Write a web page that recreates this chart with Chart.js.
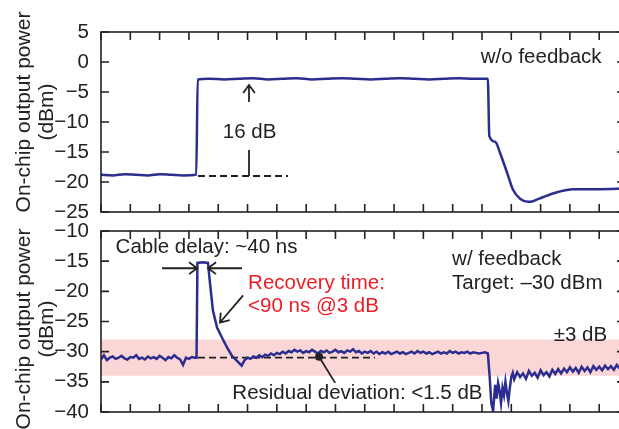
<!DOCTYPE html>
<html>
<head>
<meta charset="utf-8">
<script src="https://cdn.jsdelivr.net/npm/chart.js@4.4.1/dist/chart.umd.min.js"></script>
<style>
  html, body { margin: 0; padding: 0; background: #fff; overflow: hidden; }
  #wrap { position: relative; width: 619px; height: 429px; overflow: hidden; }
  canvas { position: absolute; left: 0; }
  #top { top: 0; }
  #bot { top: 220px; }
</style>
</head>
<body>
<div id="wrap">
  <canvas id="top" width="630" height="220"></canvas>
  <canvas id="bot" width="630" height="209"></canvas>
</div>
<script>
// time in ns, power in dBm
const timeMax = 1788;

// upper trace: no feedback
const topTime = [0,40,80,120,160,200,240,280,325,
  330,370,420,470,520,570,620,670,720,770,820,870,920,970,1020,1070,1120,1170,1220,1270,1320,
  1325,1345,1362,1386,1406,1430,1457,1474,1509,1556,1611,1703,1788];
const topPower = [-18.8,-18.9,-18.7,-18.8,-18.9,-18.7,-18.8,-18.9,-18.8,
  -2.9,-2.8,-2.9,-2.8,-2.7,-2.9,-2.8,-2.7,-2.9,-2.8,-2.7,-2.8,-2.9,-2.8,-2.7,-2.8,-2.9,-2.8,-2.7,-2.8,-2.8,
  -12.3,-13.3,-15.2,-18.5,-21.3,-22.8,-23.3,-23.2,-22.5,-21.7,-21.2,-21.2,-21.1];
const topRefTime = [331, 638];
const topRefPower = [-19, -19];

// lower trace: with feedback, target -30 dBm
const botTime = [
  0,10,20,30,40,50,60,70,80,90,100,110,120,130,140,150,160,170,180,190,200,210,220,230,240,250,260,270,280,290,300,310,320,
  326,329,347,365,372,382,396,413,430,447,457,
  470,480,490,500,510,520,530,540,550,560,
  570,580,590,600,610,620,630,640,650,660,
  670,680,690,700,710,720,730,740,750,760,
  770,780,790,800,810,820,830,840,850,860,
  870,880,890,900,910,920,930,940,950,960,
  970,980,990,1000,1010,1020,1030,1040,1050,1060,
  1070,1080,1090,1100,1110,1120,1130,1140,1150,1160,
  1170,1180,1190,1200,1210,1220,1230,1240,1250,1260,
  1270,1280,1290,1300,1310,1320,
  1326,1332,1338,1345,1350,1355,1360,1365,1370,1375,1380,1385,1390,1395,1400,1405,1410,
  1420,1430,1440,1450,1460,1470,1480,1490,1500,1510,
  1520,1530,1540,1550,1560,1570,1580,1590,1600,1610,
  1620,1630,1640,1650,1660,1670,1680,1690,1700,1710,
  1720,1730,1740,1750,1760,1770,1780,1788];
const botPower = [
  -31.3,-30.6,-31.4,-31.0,-30.8,-31.2,-31.0,-30.7,-31.1,-31.3,-30.9,-31.0,-30.6,-31.2,-31.0,-31.3,-30.8,-31.1,-30.9,-31.2,-30.7,-31.0,-31.4,-30.9,-31.1,-30.6,-31.0,-31.3,-32.2,-31.0,-31.2,-30.9,-31.0,
  -31.0,-15.3,-15.2,-15.3,-18.7,-23.2,-26.0,-27.7,-29.3,-30.7,-31.2,
  -31.8,-32.3,-31.4,-31.0,-31.2,-30.8,-31.0,-30.6,-30.9,-30.5,
  -30.7,-30.3,-30.6,-30.2,-30.4,-30.0,-30.3,-29.9,-30.1,-29.7,
  -30.0,-29.8,-30.2,-29.9,-30.1,-29.7,-30.0,-30.3,-29.9,-30.1,
  -29.8,-30.2,-30.0,-29.7,-30.1,-29.9,-30.2,-29.8,-30.0,-29.6,
  -30.1,-29.9,-30.3,-30.0,-30.2,-29.9,-30.3,-30.0,-30.4,-30.1,
  -30.3,-30.0,-30.4,-30.2,-30.0,-30.3,-30.1,-30.4,-30.2,-30.0,
  -30.3,-29.9,-30.2,-30.0,-30.3,-30.1,-30.4,-30.2,-30.0,-30.3,
  -30.1,-30.3,-29.9,-30.2,-30.0,-30.3,-30.1,-30.2,-30.0,-30.3,
  -30.1,-30.2,-30.3,-30.2,-30.1,-30.3,
  -34.0,-38.6,-39.8,-35.5,-37.8,-35.2,-36.4,-38.5,-36.0,-37.2,-35.0,-36.8,-38.2,-36.0,-34.2,-33.5,-34.6,
  -33.4,-34.2,-33.6,-34.5,-33.2,-34.0,-33.5,-34.3,-33.1,-33.9,
  -33.4,-34.1,-33.0,-33.7,-32.9,-33.6,-32.8,-33.4,-32.6,-33.3,
  -32.7,-33.5,-32.5,-33.2,-32.6,-33.4,-32.4,-33.0,-32.5,-33.1,
  -32.3,-32.9,-32.4,-33.0,-32.2,-32.8,-32.3,-32.5];
const botRefTime = [331, 935];
const botRefPower = [-31, -31];

// +/-3 dB tolerance band
const bandTime = [0, 1788];
const bandHigh = [-28, -28];
const bandLow = [-34, -34];

const topTicks = [5, 0, -5, -10, -15, -20, -25];
const botTicks = [-10, -15, -20, -25, -30, -35, -40];

const ink = '#222';
const traceColor = '#2b2e8e';
const fontFamily = "'Liberation Sans', Arial, sans-serif";

const pts = (xs, ys) => xs.map((x, i) => ({ x, y: ys[i] }));
const minus = v => (v < 0 ? '\u2212' + Math.abs(v) : String(v));

// frame, inward ticks, axis title and the annotations
function panelDecor(cfg) {
  return {
    id: 'panelDecor',
    afterDraw(chart) {
      const { ctx, chartArea: a, scales: { x, y } } = chart;
      ctx.save();
      ctx.strokeStyle = ink;
      ctx.fillStyle = ink;
      ctx.lineWidth = 1.6;
      ctx.strokeRect(a.left, a.top, a.right - a.left, a.bottom - a.top);

      ctx.beginPath();
      x.ticks.forEach(t => {
        const px = x.getPixelForValue(t.value);
        ctx.moveTo(px, a.top); ctx.lineTo(px, a.top + 8);
        ctx.moveTo(px, a.bottom); ctx.lineTo(px, a.bottom - 8);
      });
      cfg.yTicks.forEach(v => {
        const py = y.getPixelForValue(v);
        ctx.moveTo(a.left, py); ctx.lineTo(a.left + 8, py);
        ctx.moveTo(a.right, py); ctx.lineTo(a.right - 8, py);
      });
      ctx.stroke();

      // y title, two lines
      ctx.save();
      ctx.font = '21px ' + fontFamily;
      ctx.textAlign = 'center';
      ctx.textBaseline = 'middle';
      ctx.translate(0, (a.top + a.bottom) / 2 + cfg.titleShift);
      ctx.rotate(-Math.PI / 2);
      ctx.fillText('On-chip output power', 0, 24);
      ctx.fillText('(dBm)', 0, 47);
      ctx.restore();

      // arrows
      ctx.lineWidth = 1.8;
      cfg.arrows.forEach(([x1, y1, x2, y2, head]) => {
        const ax = x.getPixelForValue(x1), ay = y.getPixelForValue(y1);
        const bx = x.getPixelForValue(x2), by = y.getPixelForValue(y2);
        ctx.beginPath();
        ctx.moveTo(ax, ay); ctx.lineTo(bx, by);
        if (head) {
          const ang = Math.atan2(by - ay, bx - ax);
          const len = 10, spread = Math.PI / 5;
          ctx.moveTo(bx - len * Math.cos(ang - spread), by - len * Math.sin(ang - spread));
          ctx.lineTo(bx, by);
          ctx.lineTo(bx - len * Math.cos(ang + spread), by - len * Math.sin(ang + spread));
        }
        ctx.stroke();
      });

      (cfg.dots || []).forEach(([dx, dy]) => {
        ctx.beginPath();
        ctx.arc(x.getPixelForValue(dx), y.getPixelForValue(dy), 4, 0, Math.PI * 2);
        ctx.fill();
      });

      // text notes
      ctx.font = '20.5px ' + fontFamily;
      ctx.textBaseline = 'middle';
      cfg.notes.forEach(n => {
        ctx.fillStyle = n.color || ink;
        ctx.textAlign = n.align || 'left';
        ctx.fillText(n.text, x.getPixelForValue(n.x), y.getPixelForValue(n.y));
      });
      ctx.restore();
    }
  };
}

function makePanel(id, datasets, yMin, yMax, padTop, padBottom, decor) {
  return new Chart(document.getElementById(id), {
    type: 'line',
    data: { datasets },
    options: {
      responsive: false,
      animation: false,
      events: [],
      layout: { padding: { left: 0, right: 5, top: padTop, bottom: padBottom } },
      plugins: { legend: { display: false }, tooltip: { enabled: false } },
      elements: { point: { radius: 0 } },
      scales: {
        x: {
          type: 'linear', min: 0, max: timeMax,
          ticks: { display: false, stepSize: 100, includeBounds: false },
          grid: { display: false }, border: { display: false },
          afterFit: s => { s.height = 0; s.paddingLeft = 0; s.paddingRight = 0; }
        },
        y: {
          min: yMin, max: yMax,
          ticks: {
            stepSize: 5, padding: 4, color: ink,
            font: { family: fontFamily, size: 20.5 },
            callback: v => minus(v)
          },
          grid: { display: false }, border: { display: false },
          afterFit: s => { s.width = 101; s.paddingTop = 0; s.paddingBottom = 0; }
        }
      }
    },
    plugins: [panelDecor(decor)]
  });
}

makePanel('top', [
  { data: pts(topTime, topPower), borderColor: traceColor, borderWidth: 2.5,
    cubicInterpolationMode: 'monotone', order: 0 },
  { data: pts(topRefTime, topRefPower), borderColor: ink, borderWidth: 1.8,
    borderDash: [7, 4], order: 1 }
], -25, 5, 32, 8, {
  yTicks: topTicks,
  titleShift: -10,
  arrows: [
    [505, -6.67, 505, -3.83, true],
    [505, -14.67, 505, -19, false]
  ],
  notes: [
    { text: 'w/o feedback', x: 1502, y: 0.83, align: 'center' },
    { text: '16 dB', x: 507, y: -11.67, align: 'center' }
  ]
});

makePanel('bot', [
  { data: pts(botTime, botPower), borderColor: traceColor, borderWidth: 2.5,
    tension: 0, order: 0 },
  { data: pts(botRefTime, botRefPower), borderColor: ink, borderWidth: 1.8,
    borderDash: [7, 4], order: 1 },
  { data: pts(bandTime, bandHigh), borderWidth: 0, fill: '+1',
    backgroundColor: '#fbd6d6', order: 2 },
  { data: pts(bandTime, bandLow), borderWidth: 0, order: 3 }
], -40, -10, 11, 17, {
  yTicks: botTicks,
  titleShift: 7.5,
  arrows: [
    [208, -16.17, 328, -16.17, true],
    [481, -16.17, 365, -16.17, true],
    [485, -20.67, 406, -25.17, true],
    [744, -30.83, 799, -35.17, false]
  ],
  dots: [[744, -30.83]],
  notes: [
    { text: 'Cable delay: ~40 ns', x: 360, y: -12.67, align: 'center' },
    { text: 'Recovery time:', x: 502, y: -18.67, color: '#ee1d25' },
    { text: '<90 ns @3 dB', x: 502, y: -22.5, color: '#ee1d25' },
    { text: 'w/ feedback', x: 1198, y: -14.67 },
    { text: 'Target: \u201330 dBm', x: 1198, y: -18.67 },
    { text: '\u00b13 dB', x: 1727, y: -27.33, align: 'right' },
    { text: 'Residual deviation: <1.5 dB', x: 875, y: -36.83, align: 'center' }
  ]
});
</script>
</body>
</html>
